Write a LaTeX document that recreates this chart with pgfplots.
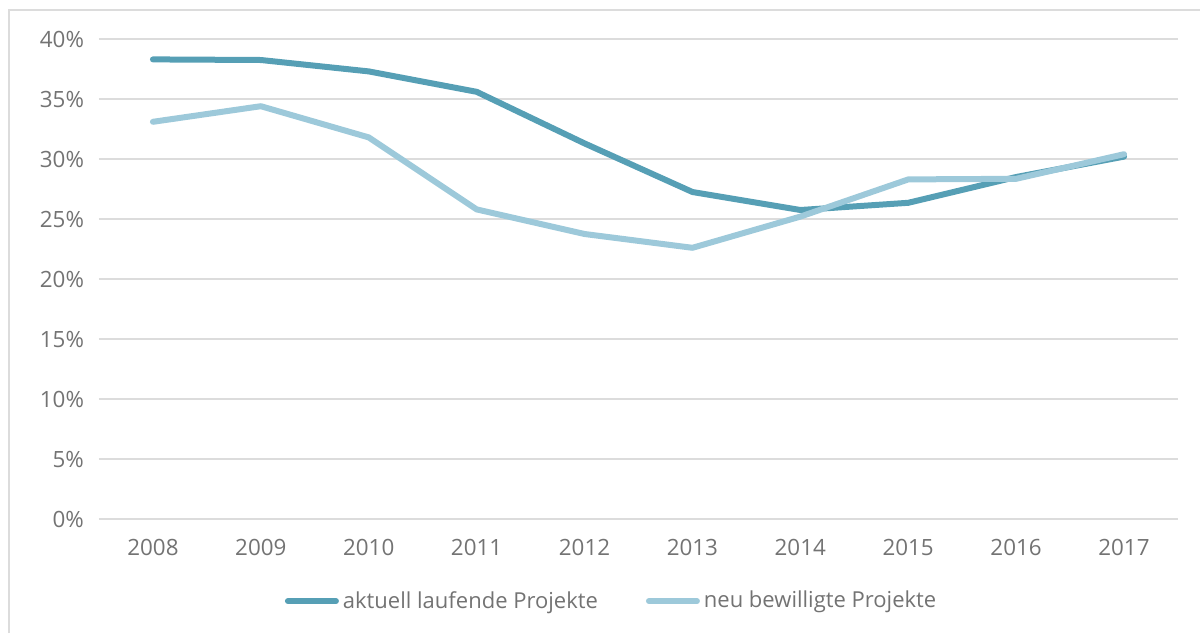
\documentclass[border=0pt]{standalone}
\usepackage{fontspec}
\setmainfont{Open Sans}
\usepackage{pgfplots}
\pgfplotsset{compat=1.18}
\definecolor{darkline}{HTML}{569FB5}
\definecolor{lightline}{HTML}{9DC9DA}
\definecolor{gridc}{HTML}{DCDCDC}
\definecolor{txt}{HTML}{737373}
\begin{document}
\begin{tikzpicture}
\useasboundingbox (0,0) rectangle (600pt,316.5pt);
\draw[gridc, line width=1pt] (4.5pt,0) -- (4.5pt,311.5pt) -- (600pt,311.5pt);
\begin{axis}[
  at={(49.5pt,57pt)}, anchor=south west,
  scale only axis, width=539.5pt, height=240pt,
  xmin=2007.5, xmax=2017.5, ymin=0, ymax=40,
  xtick={2008,...,2017}, ytick={0,5,...,40},
  xticklabel style={/pgf/number format/1000 sep={}},
  /pgf/number format/assume math mode=true,
  yticklabel={\pgfmathprintnumber{\tick}\%},
  ymajorgrids, major grid style={gridc, line width=1pt},
  axis line style={draw=none},
  tick style={draw=none},
  ticklabel style={font=\fontsize{11.2}{13}\selectfont, text=txt},
  yticklabel style={xshift=-4pt},
  xticklabel style={yshift=-6.5pt},
  legend columns=2,
  legend style={at={(0.476,-0.171)}, anchor=center, draw=none, fill=none,
    font=\fontsize{11}{13}\selectfont, text=txt,
    /tikz/every even column/.append style={column sep=22pt}},
  legend cell align=left,
  legend image code/.code={\draw[#1, line width=3pt, line cap=round] (1.5pt,0pt) -- (25.5pt,0pt);},
  line join=round,
]
\addplot[darkline, line width=3pt, line cap=round] coordinates {
(2008,38.3) (2009,38.25) (2010,37.3) (2011,35.6) (2012,31.3) (2013,27.25) (2014,25.75) (2015,26.35) (2016,28.5) (2017,30.2)};
\addlegendentry{aktuell laufende Projekte}
\addplot[lightline, line width=3pt, line cap=round] coordinates {
(2008,33.1) (2009,34.4) (2010,31.8) (2011,25.8) (2012,23.75) (2013,22.6) (2014,25.2) (2015,28.3) (2016,28.35) (2017,30.4)};
\addlegendentry{neu bewilligte Projekte}
\end{axis}
\end{tikzpicture}
\end{document}
